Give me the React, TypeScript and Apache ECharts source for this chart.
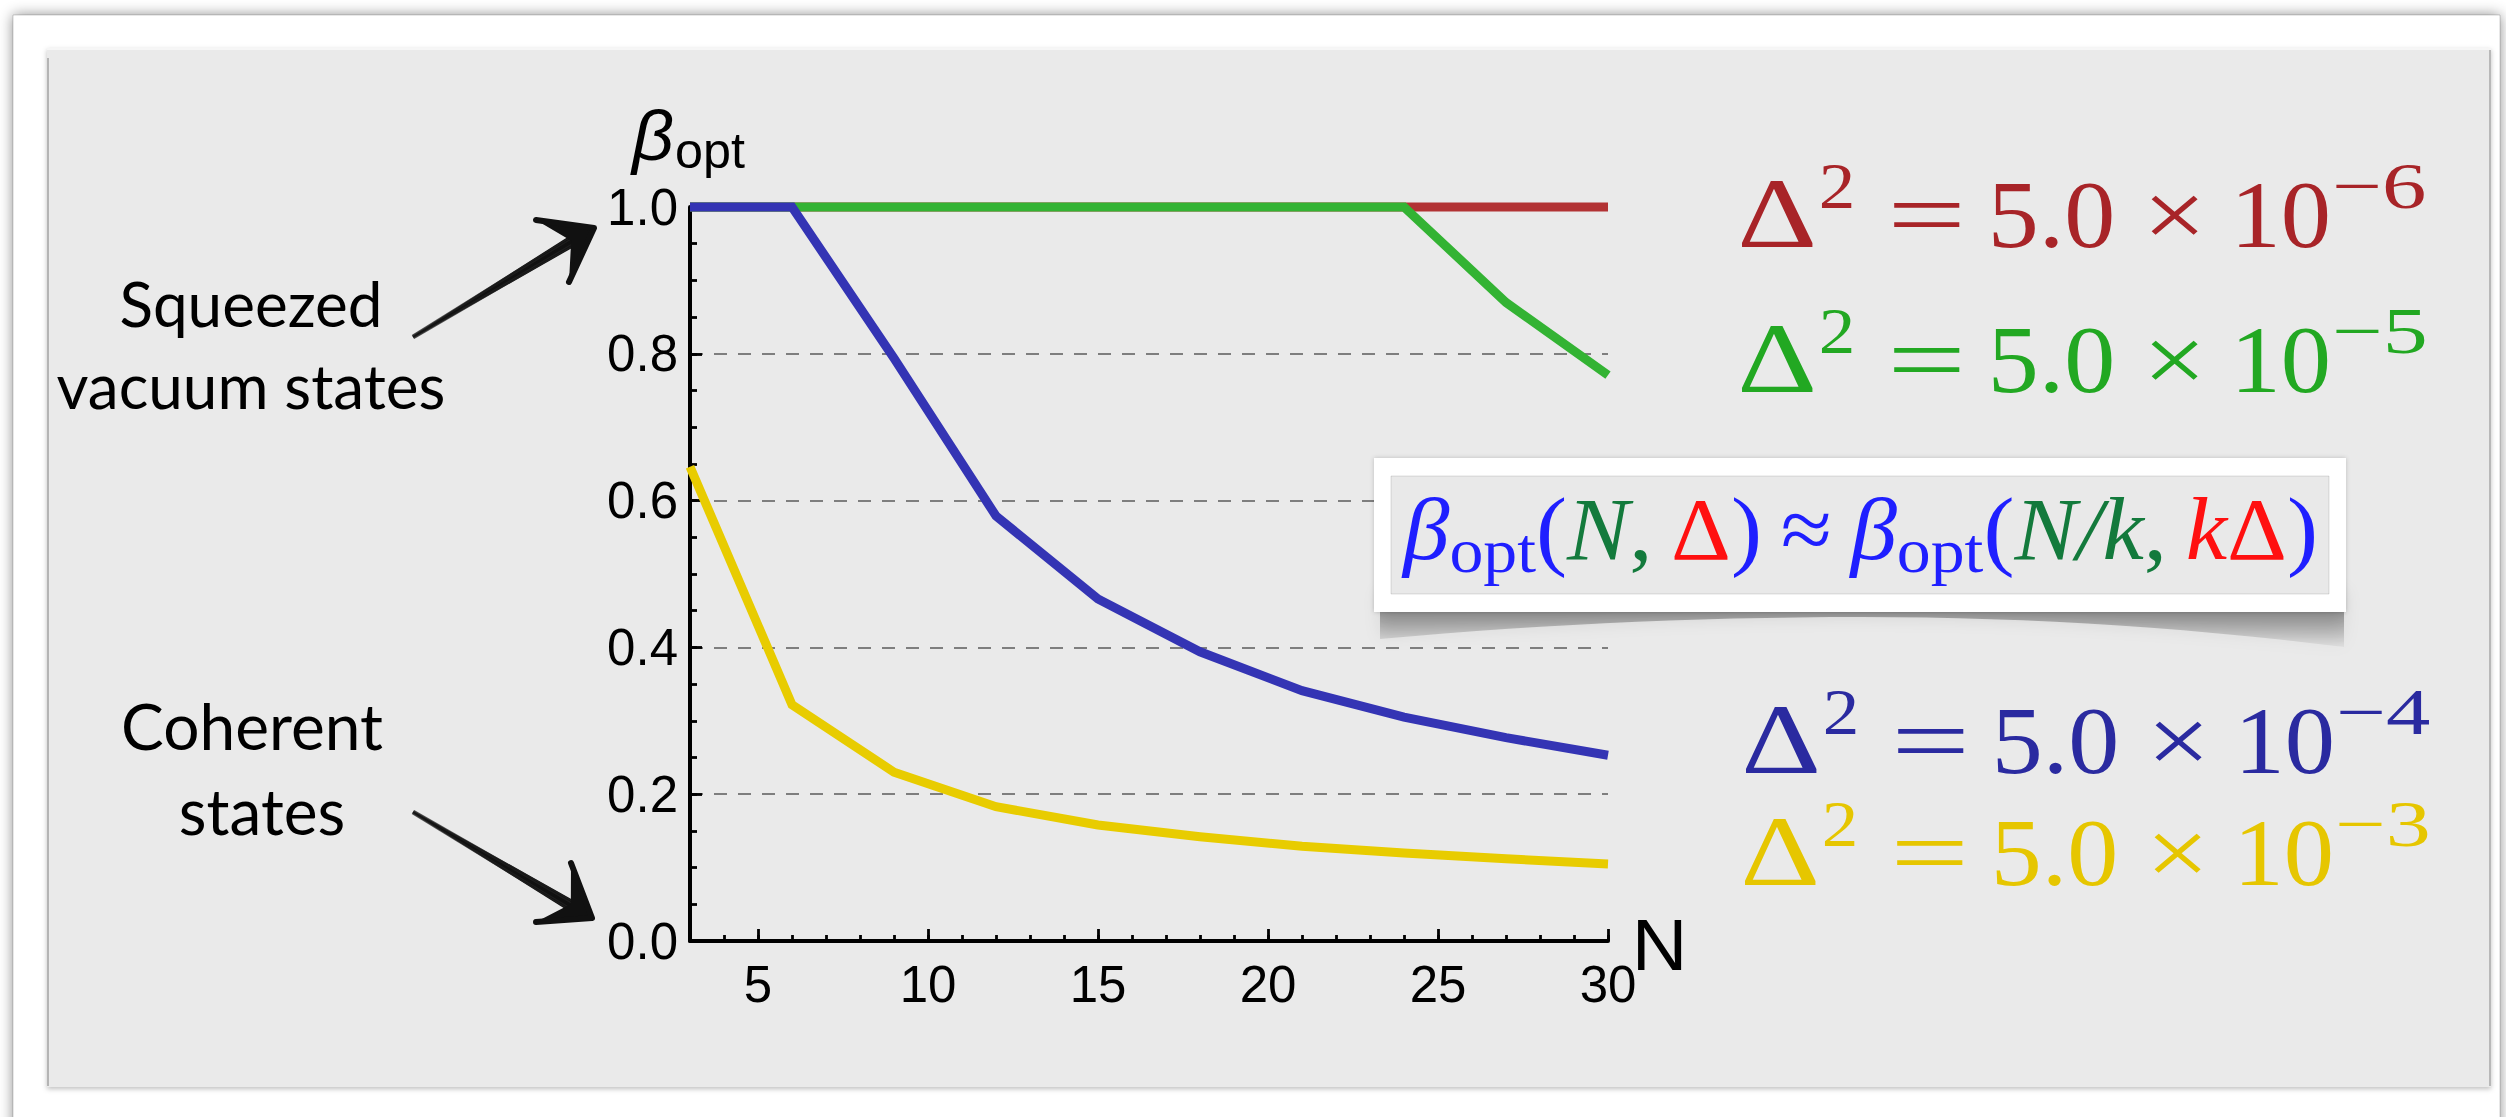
import React, { useEffect, useRef } from 'react';
import * as echarts from 'echarts';

// ---------------- data ----------------
const N_VALUES = [3, 6, 9, 12, 15, 18, 21, 24, 27, 30];
const BETA_D2_5EM6 = [1, 1, 1, 1, 1, 1, 1, 1, 1, 1];
const BETA_D2_5EM5 = [1, 1, 1, 1, 1, 1, 1, 1, 0.87, 0.771];
const BETA_D2_5EM4 = [1, 1, 0.794, 0.579, 0.466, 0.394, 0.341, 0.305, 0.277, 0.253];
const BETA_D2_5EM3 = [0.646, 0.322, 0.23, 0.183, 0.158, 0.142, 0.129, 0.12, 0.112, 0.105];
const X_TICK_LABELS = [5, 10, 15, 20, 25, 30];
const Y_TICK_LABELS = [0, 0.2, 0.4, 0.6, 0.8, 1.0];
const SERIES_NAMES = ['Δ² = 5.0 × 10⁻⁶', 'Δ² = 5.0 × 10⁻⁵', 'Δ² = 5.0 × 10⁻⁴', 'Δ² = 5.0 × 10⁻³'];
const LEGEND_MANTISSA = '5.0';
const LEGEND_EXPONENTS = ['−6', '−5', '−4', '−3'];
const X_NAME = 'N';
const Y_NAME_MAIN = 'β';
const Y_NAME_SUB = 'opt';
const NOTE_TOP = ['Squeezed', 'vacuum states'];
const NOTE_BOTTOM = ['Coherent', 'states'];

// ---------------- style ----------------
const LINE_COLORS = ['#b23234', '#33b333', '#3434b4', '#e8cc00'];
const LEGEND_COLORS = ['#a82428', '#22a822', '#2a2aa0', '#e6c600'];
const F_BLUE = '#1f1fff';
const F_GREEN = '#137a3c';
const F_RED = '#ff1010';

let measureCtx: CanvasRenderingContext2D | null = null;
function measure(text: string, size: number, family: string, italic = false) {
  if (!measureCtx) measureCtx = document.createElement('canvas').getContext('2d');
  const ctx = measureCtx!;
  ctx.font = `${italic ? 'italic ' : ''}${size}px "${family}"`;
  const m = ctx.measureText(text);
  const asc = (m as any).fontBoundingBoxAscent;
  const desc = (m as any).fontBoundingBoxDescent;
  const central = asc != null && desc != null ? (asc - desc) / 2 : 0.35 * size;
  return {
    width: m.width,
    left: m.actualBoundingBoxLeft,
    right: m.actualBoundingBoxRight,
    central,
  };
}

function textAt(
  text: string,
  x: number,
  baseline: number,
  size: number,
  family: string,
  color: string,
  opts: { italic?: boolean; align?: string; scaleX?: number } = {}
) {
  const m = measure(text, size, family, !!opts.italic);
  return {
    type: 'text',
    x,
    y: baseline - m.central,
    scaleX: opts.scaleX ?? 1,
    z: 30,
    silent: true,
    style: {
      text,
      fontSize: size,
      fontFamily: family,
      fontStyle: opts.italic ? 'italic' : 'normal',
      fill: color,
      align: opts.align ?? 'left',
      verticalAlign: 'middle',
    },
  };
}

// place text so its ink spans [inkL, inkR]
function inkText(text: string, inkL: number, inkR: number, baseline: number, size: number, family: string, color: string, italic = false) {
  const m = measure(text, size, family, italic);
  const w = m.left + m.right;
  const s = w > 0 ? (inkR - inkL) / w : 1;
  return textAt(text, inkL + m.left * s, baseline, size, family, color, { italic, scaleX: s });
}

function arrow(tail: number[], tip: number[], b1: number[], b2: number[]) {
  const dx = tip[0] - tail[0];
  const dy = tip[1] - tail[1];
  const len = Math.hypot(dx, dy);
  const ux = dx / len, uy = dy / len;
  const nx = -uy, ny = ux;
  const base = [tip[0] - ux * 22, tip[1] - uy * 22];
  const els: any[] = [];
  els.push({
    type: 'polygon', z: 25, silent: true,
    shape: { points: [
      [tail[0] + nx * 1.2, tail[1] + ny * 1.2],
      [base[0] + nx * 6, base[1] + ny * 6],
      [base[0] - nx * 6, base[1] - ny * 6],
      [tail[0] - nx * 1.2, tail[1] - ny * 1.2],
    ] },
    style: { fill: '#111' },
  });
  for (const off of [-4.5, -2.5, 2.5, 4.5]) {
    els.push({
      type: 'line', z: 25, silent: true,
      shape: { x1: tail[0] + nx * off * 0.4, y1: tail[1] + ny * off * 0.4, x2: base[0] + nx * off, y2: base[1] + ny * off },
      style: { stroke: '#222', lineWidth: 1.3, opacity: 0.75 },
    });
  }
  const mid = [(b1[0] + b2[0]) / 2, (b1[1] + b2[1]) / 2];
  const notch = [tip[0] + (mid[0] - tip[0]) * 0.55, tip[1] + (mid[1] - tip[1]) * 0.55];
  els.push({
    type: 'polygon', z: 25, silent: true,
    shape: { points: [tip, b1, notch, b2] },
    style: { fill: '#111' },
  });
  els.push({
    type: 'polyline', z: 25, silent: true,
    shape: { points: [b1, tip, b2] },
    style: { stroke: '#111', lineWidth: 6, lineJoin: 'round', lineCap: 'round', fill: 'none' },
  });
  return els;
}

function buildGraphics() {
  const els: any[] = [];
  // outer white panel with shadow
  els.push({
    type: 'rect', z: -20, silent: true,
    shape: { x: 13, y: 15, width: 2487, height: 1200 },
    style: { fill: '#ffffff', stroke: 'rgba(0,0,0,0.18)', lineWidth: 1, shadowBlur: 14, shadowColor: 'rgba(0,0,0,0.45)' },
  });
  // grey panel
  els.push({
    type: 'rect', z: -19, silent: true,
    shape: { x: 47, y: 48, width: 2444, height: 1039 },
    style: { fill: '#eaeaea', shadowBlur: 5, shadowOffsetY: 2, shadowColor: 'rgba(0,0,0,0.25)' },
  });
  els.push({ type: 'line', z: -18, silent: true, shape: { x1: 48, y1: 58, x2: 48, y2: 1086 }, style: { stroke: '#b4b4b4', lineWidth: 2 } });
  els.push({ type: 'line', z: -18, silent: true, shape: { x1: 2490, y1: 50, x2: 2490, y2: 1086 }, style: { stroke: '#b8b8b8', lineWidth: 2 } });
  els.push({ type: 'line', z: -18, silent: true, shape: { x1: 47, y1: 49, x2: 2491, y2: 49 }, style: { stroke: '#f6f6f6', lineWidth: 2 } });

  // formula box geometry
  const BX = 1374, BY = 458, BW = 972, BH = 154;
  // curled soft shadow
  const L = BX + 6, R = BX + BW - 2;
  const pts: number[][] = [[L, BY + BH - 20], [R, BY + BH - 20]];
  for (let i = 0; i <= 30; i++) {
    const t = 1 - i / 30;
    const x = L + (R - L) * t;
    const k = (2 * t - 1) * (2 * t - 1);
    const y = BY + BH + 5 + (t > 0.5 ? 30 : 22) * k;
    pts.push([x, y]);
  }
  els.push({
    type: 'polygon', z: 8, silent: true,
    shape: { points: pts },
    style: {
      fill: new echarts.graphic.LinearGradient(0, 0, 0, 1, [
        { offset: 0, color: 'rgba(0,0,0,0.5)' },
        { offset: 0.55, color: 'rgba(0,0,0,0.26)' },
        { offset: 1, color: 'rgba(0,0,0,0.04)' },
      ]),
      shadowBlur: 16,
      shadowColor: 'rgba(0,0,0,0.3)',
    },
  });
  els.push({
    type: 'rect', z: 9, silent: true,
    shape: { x: BX, y: BY, width: BW, height: BH },
    style: { fill: '#ffffff', shadowBlur: 4, shadowColor: 'rgba(0,0,0,0.2)' },
  });
  els.push({
    type: 'rect', z: 10, silent: true,
    shape: { x: BX + 17, y: BY + 18, width: BW - 34, height: BH - 36 },
    style: { fill: '#e9e9e9', stroke: 'rgba(0,0,0,0.12)', lineWidth: 1 },
  });

  // formula text inside the box
  const FS = 'Liberation Serif';
  const S = 88;
  const SUB = 64;
  const pieces: [string, string, boolean, boolean][] = [
    ['β', F_BLUE, true, false], ['opt', F_BLUE, false, true], ['(', F_BLUE, false, false],
    ['N', F_GREEN, true, false], [',', F_GREEN, false, false], ['\u2009', F_BLUE, false, false],
    ['Δ', F_RED, false, false], [')', F_BLUE, false, false], ['\u2009≈\u2009', F_BLUE, false, false],
    ['β', F_BLUE, true, false], ['opt', F_BLUE, false, true], ['(', F_BLUE, false, false],
    ['N/k', F_GREEN, true, false], [',', F_GREEN, false, false], ['\u2009', F_BLUE, false, false],
    ['k', F_RED, true, false], ['Δ', F_RED, false, false], [')', F_BLUE, false, false],
  ];
  let total = 0;
  const widths = pieces.map(([t, , it, sub]) => {
    const w = measure(t, sub ? SUB : S, FS, it).width;
    total += w;
    return w;
  });
  const X0 = 1403, X1 = 2318;
  const sx = (X1 - X0) / total;
  let cx = X0;
  pieces.forEach(([t, c, it, sub], i) => {
    els.push(textAt(t, cx, sub ? 572 : 559, sub ? SUB : S, FS, c, { italic: it, scaleX: sx }));
    cx += widths[i] * sx;
  });

  // legend formulas
  const INK = [[1741, 1813], [1821, 1852], [1893, 1960], [1993, 2112], [2151, 2198], [2239, 2328], [2336, 2425]];
  const BASELINES = [247, 392, 773, 885];
  const DX = [0, 0, 4, 3];
  LEGEND_EXPONENTS.forEach((exp, r) => {
    const texts = ['Δ', '2', '=', LEGEND_MANTISSA, '×', '10', exp];
    const sizes = [100, 66, 96, 96, 96, 96, 66];
    const rise = [0, 39, 0, 0, 0, 0, 39];
    texts.forEach((t, i) => {
      els.push(inkText(t, INK[i][0] + DX[r], INK[i][1] + DX[r], BASELINES[r] - rise[i], sizes[i], FS, LEGEND_COLORS[r]));
    });
  });

  // axis names
  els.push(inkText(Y_NAME_MAIN, 630, 673, 160, 70, 'Liberation Sans', '#000', true));
  els.push(inkText(Y_NAME_SUB, 677, 745, 168, 50, 'Liberation Sans', '#000'));
  els.push(inkText(X_NAME, 1637, 1682, 970, 72, 'Liberation Sans', '#000'));

  // annotations
  const NF = 'Lato';
  els.push(textAt(NOTE_TOP[0], 251, 327, 62, NF, '#000', { align: 'center' }));
  els.push(textAt(NOTE_TOP[1], 251, 409, 62, NF, '#000', { align: 'center' }));
  els.push(textAt(NOTE_BOTTOM[0], 252, 750, 64, NF, '#000', { align: 'center' }));
  els.push(textAt(NOTE_BOTTOM[1], 262, 835, 64, NF, '#000', { align: 'center' }));

  els.push(...arrow([413, 337], [594, 228], [536, 220], [569, 282]));
  els.push(...arrow([413, 812], [592, 918], [571, 863], [536, 922]));
  return els;
}

function yLabel(v: number) {
  const hit = Y_TICK_LABELS.find((t) => Math.abs(t - v) < 1e-6);
  return hit === undefined ? '' : hit.toFixed(1);
}

function buildOption() {
  const tickStyle = { color: '#000', width: 2.8 };
  const data = [BETA_D2_5EM6, BETA_D2_5EM5, BETA_D2_5EM4, BETA_D2_5EM3];
  return {
    animation: false,
    backgroundColor: '#ffffff',
    grid: { left: 690, top: 207, width: 918, height: 734, containLabel: false },
    xAxis: [
      {
        type: 'value', min: 3, max: 30, interval: 1, position: 'bottom',
        axisLine: { show: true, onZero: false, lineStyle: { color: '#000', width: 4 } },
        axisTick: { show: true, inside: true, length: 6, lineStyle: tickStyle },
        axisLabel: {
          show: true, margin: 18, fontSize: 51, fontFamily: 'Liberation Sans', color: '#000',
          formatter: (v: number) => (X_TICK_LABELS.indexOf(v) >= 0 ? String(v) : ''),
        },
        splitLine: { show: false },
      },
      {
        type: 'value', min: 3, max: 30, interval: 1, position: 'bottom',
        axisLine: { show: false, onZero: false },
        axisTick: { show: true, inside: true, length: 12, customValues: X_TICK_LABELS, lineStyle: tickStyle },
        axisLabel: { show: false },
        splitLine: { show: false },
      },
    ],
    yAxis: [
      {
        type: 'value', min: 0, max: 1, interval: 0.05, position: 'left',
        axisLine: { show: true, onZero: false, lineStyle: { color: '#000', width: 4 } },
        axisTick: { show: true, inside: true, length: 7, lineStyle: tickStyle },
        axisLabel: { show: true, margin: 12, fontSize: 51, fontFamily: 'Liberation Sans', color: '#000', formatter: yLabel },
        splitLine: { show: false },
      },
      {
        type: 'value', min: 0, max: 1, interval: 0.2, position: 'left',
        axisLine: { show: false, onZero: false },
        axisTick: { show: true, inside: true, length: 12, lineStyle: tickStyle },
        axisLabel: { show: false },
        splitLine: { show: true, lineStyle: { color: '#7e7e7e', width: 2, type: [13, 11] } },
      },
    ],
    series: data.map((vals, i) => ({
      type: 'line',
      name: SERIES_NAMES[i],
      xAxisIndex: 0,
      yAxisIndex: 0,
      data: N_VALUES.map((n, j) => [n, vals[j]]),
      showSymbol: false,
      symbol: 'none',
      clip: false,
      silent: true,
      z: 2 + i,
      lineStyle: { width: 9, color: LINE_COLORS[i], cap: 'butt', join: 'miter' },
      itemStyle: { color: LINE_COLORS[i] },
    })),
    graphic: { elements: buildGraphics() },
  };
}

export default function App() {
  const ref = useRef<HTMLDivElement>(null);
  useEffect(() => {
    const el = ref.current;
    if (!el) return;
    const chart = echarts.init(el, undefined, { renderer: 'svg', width: 2506, height: 1117 });
    chart.setOption(buildOption() as any);
    return () => chart.dispose();
  }, []);
  return (
    <div style={{ position: 'fixed', left: 0, top: 0, width: 2506, height: 1117, background: '#fff', overflow: 'hidden' }}>
      <div ref={ref} style={{ width: 2506, height: 1117 }} />
    </div>
  );
}
